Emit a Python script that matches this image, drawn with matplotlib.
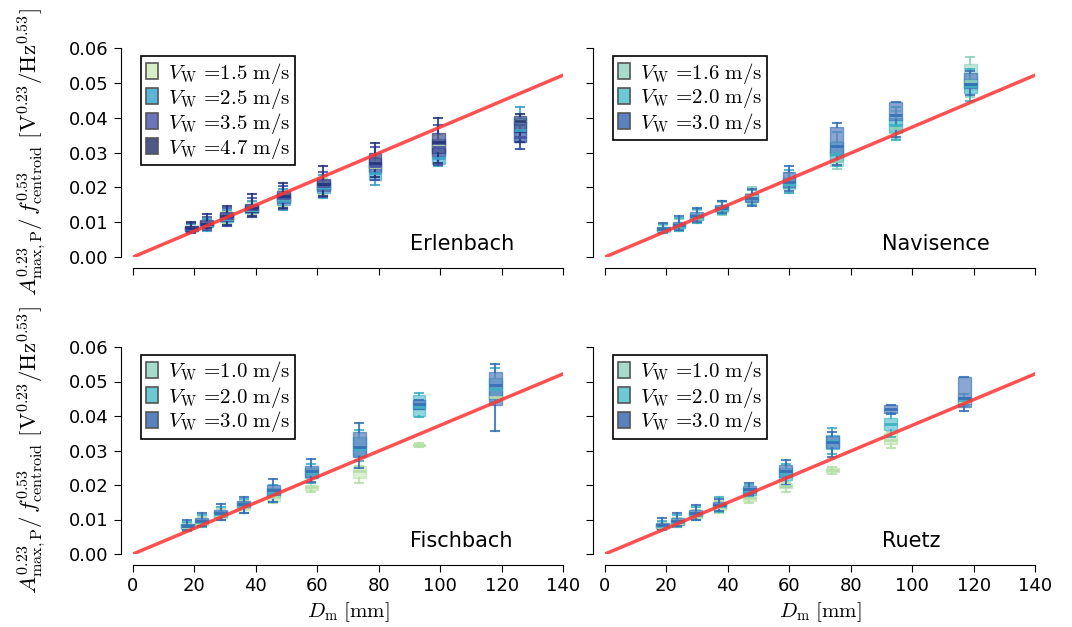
import numpy as np
import matplotlib
matplotlib.use('Agg')
import matplotlib.pyplot as plt
from matplotlib.patches import Patch
import matplotlib.colors as mcolors

plt.rcParams['mathtext.fontset'] = 'cm'
plt.rcParams['font.family'] = 'DejaVu Sans'

# ---------------- data ----------------
fit_x = [0, 140]
fit_y = [0, 0.0522]

# Erlenbach
erl_pos = [18.9, 24.0, 30.5, 38.6, 48.9, 61.9, 78.8, 99.4, 126.0]
erl_labels = ['1.5', '2.5', '3.5', '4.7']
erl_15_lo = [0.0072, 0.0080, 0.0095, 0.0120, 0.0145, 0.0180, 0.0230, 0.0290, 0.0345]
erl_15_q1 = [0.0076, 0.0086, 0.0102, 0.0127, 0.0155, 0.0190, 0.0245, 0.0305, 0.0370]
erl_15_md = [0.0080, 0.0092, 0.0110, 0.0135, 0.0165, 0.0200, 0.0258, 0.0320, 0.0390]
erl_15_q3 = [0.0086, 0.0099, 0.0120, 0.0145, 0.0178, 0.0212, 0.0272, 0.0335, 0.0400]
erl_15_hi = [0.0094, 0.0108, 0.0132, 0.0158, 0.0192, 0.0228, 0.0290, 0.0350, 0.0410]

erl_25_lo = [0.0069, 0.0076, 0.0088, 0.0115, 0.0135, 0.0170, 0.0207, 0.0262, 0.0310]
erl_25_q1 = [0.0074, 0.0085, 0.0100, 0.0125, 0.0150, 0.0185, 0.0222, 0.0268, 0.0330]
erl_25_md = [0.0079, 0.0091, 0.0110, 0.0135, 0.0162, 0.0198, 0.0240, 0.0285, 0.0365]
erl_25_q3 = [0.0085, 0.0098, 0.0120, 0.0145, 0.0175, 0.0212, 0.0262, 0.0310, 0.0400]
erl_25_hi = [0.0095, 0.0110, 0.0135, 0.0160, 0.0195, 0.0235, 0.0285, 0.0330, 0.0430]

erl_35_lo = [0.0070, 0.0078, 0.0090, 0.0115, 0.0138, 0.0172, 0.0220, 0.0265, 0.0310]
erl_35_q1 = [0.0076, 0.0088, 0.0102, 0.0128, 0.0155, 0.0190, 0.0245, 0.0290, 0.0330]
erl_35_md = [0.0081, 0.0094, 0.0112, 0.0138, 0.0168, 0.0205, 0.0262, 0.0315, 0.0345]
erl_35_q3 = [0.0088, 0.0102, 0.0125, 0.0150, 0.0185, 0.0222, 0.0285, 0.0340, 0.0360]
erl_35_hi = [0.0098, 0.0115, 0.0140, 0.0170, 0.0205, 0.0245, 0.0315, 0.0380, 0.0380]

erl_47_lo = [0.0072, 0.0082, 0.0092, 0.0118, 0.0140, 0.0175, 0.0230, 0.0270, 0.0330]
erl_47_q1 = [0.0078, 0.0090, 0.0105, 0.0130, 0.0160, 0.0195, 0.0255, 0.0300, 0.0360]
erl_47_md = [0.0083, 0.0096, 0.0118, 0.0140, 0.0175, 0.0210, 0.0270, 0.0330, 0.0390]
erl_47_q3 = [0.0090, 0.0105, 0.0130, 0.0152, 0.0190, 0.0225, 0.0300, 0.0355, 0.0405]
erl_47_hi = [0.0100, 0.0124, 0.0146, 0.0180, 0.0212, 0.0260, 0.0327, 0.0400, 0.0410]

# Navisence
nav_pos = [19.0, 24.1, 29.9, 38.0, 47.8, 59.9, 75.4, 94.6, 118.9]
nav_labels = ['1.6', '2.0', '3.0']
nav_16_lo = [0.0069, 0.0075, 0.0098, 0.0122, 0.0155, 0.0184, 0.0253, 0.0340, 0.0460]
nav_16_q1 = [0.0073, 0.0082, 0.0105, 0.0130, 0.0165, 0.0195, 0.0262, 0.0356, 0.0480]
nav_16_md = [0.0078, 0.0088, 0.0112, 0.0137, 0.0175, 0.0210, 0.0275, 0.0370, 0.0505]
nav_16_q3 = [0.0084, 0.0095, 0.0120, 0.0145, 0.0185, 0.0230, 0.0307, 0.0393, 0.0554]
nav_16_hi = [0.0092, 0.0108, 0.0135, 0.0158, 0.0200, 0.0240, 0.0330, 0.0420, 0.0574]

nav_20_lo = [0.0070, 0.0076, 0.0098, 0.0123, 0.0150, 0.0185, 0.0260, 0.0335, 0.0448]
nav_20_q1 = [0.0074, 0.0083, 0.0106, 0.0132, 0.0160, 0.0198, 0.0275, 0.0360, 0.0470]
nav_20_md = [0.0079, 0.0090, 0.0114, 0.0139, 0.0168, 0.0210, 0.0295, 0.0380, 0.0490]
nav_20_q3 = [0.0085, 0.0097, 0.0123, 0.0147, 0.0178, 0.0228, 0.0330, 0.0400, 0.0510]
nav_20_hi = [0.0094, 0.0112, 0.0138, 0.0160, 0.0192, 0.0250, 0.0360, 0.0430, 0.0540]

nav_30_lo = [0.0072, 0.0078, 0.0100, 0.0125, 0.0145, 0.0190, 0.0265, 0.0345, 0.0465]
nav_30_q1 = [0.0076, 0.0085, 0.0110, 0.0135, 0.0158, 0.0200, 0.0293, 0.0393, 0.0485]
nav_30_md = [0.0081, 0.0092, 0.0118, 0.0142, 0.0168, 0.0215, 0.0320, 0.0408, 0.0497]
nav_30_q3 = [0.0087, 0.0100, 0.0128, 0.0150, 0.0180, 0.0244, 0.0373, 0.0445, 0.0528]
nav_30_hi = [0.0098, 0.0118, 0.0142, 0.0162, 0.0195, 0.0262, 0.0385, 0.0445, 0.0535]

# Fischbach
fis_pos = [17.7, 22.4, 28.6, 36.1, 45.7, 58.0, 73.6, 93.1, 117.9]
fis_labels = ['1.0', '2.0', '3.0']
fis_10_lo = [0.0068, 0.0078, 0.0098, 0.0118, 0.0148, 0.0180, 0.0206, 0.0310, 0.0440]
fis_10_q1 = [0.0073, 0.0084, 0.0105, 0.0128, 0.0155, 0.0186, 0.0220, 0.0312, 0.0445]
fis_10_md = [0.0078, 0.0090, 0.0112, 0.0135, 0.0165, 0.0193, 0.0240, 0.0316, 0.0455]
fis_10_q3 = [0.0084, 0.0097, 0.0120, 0.0145, 0.0178, 0.0200, 0.0255, 0.0320, 0.0470]
fis_10_hi = [0.0090, 0.0106, 0.0130, 0.0155, 0.0185, 0.0206, 0.0255, 0.0322, 0.0480]

fis_20_lo = [0.0068, 0.0078, 0.0098, 0.0120, 0.0150, 0.0205, 0.0270, 0.0397, 0.0440]
fis_20_q1 = [0.0074, 0.0086, 0.0108, 0.0132, 0.0165, 0.0220, 0.0285, 0.0400, 0.0450]
fis_20_md = [0.0080, 0.0094, 0.0116, 0.0140, 0.0178, 0.0235, 0.0305, 0.0425, 0.0478]
fis_20_q3 = [0.0086, 0.0102, 0.0125, 0.0150, 0.0190, 0.0250, 0.0340, 0.0462, 0.0510]
fis_20_hi = [0.0094, 0.0112, 0.0135, 0.0160, 0.0200, 0.0262, 0.0360, 0.0467, 0.0540]

fis_30_lo = [0.0070, 0.0080, 0.0100, 0.0120, 0.0150, 0.0210, 0.0250, 0.0420, 0.0357]
fis_30_q1 = [0.0076, 0.0090, 0.0112, 0.0135, 0.0170, 0.0223, 0.0281, 0.0420, 0.0432]
fis_30_md = [0.0082, 0.0097, 0.0120, 0.0145, 0.0185, 0.0240, 0.0310, 0.0435, 0.0490]
fis_30_q3 = [0.0088, 0.0105, 0.0128, 0.0155, 0.0200, 0.0255, 0.0354, 0.0446, 0.0527]
fis_30_hi = [0.0098, 0.0119, 0.0145, 0.0165, 0.0217, 0.0275, 0.0380, 0.0446, 0.0550]

# Ruetz
rue_pos = [18.7, 23.5, 29.6, 37.2, 46.9, 58.8, 74.0, 93.0, 116.9]
rue_labels = ['1.0', '2.0', '3.0']
rue_10_lo = [0.0070, 0.0078, 0.0098, 0.0120, 0.0148, 0.0180, 0.0232, 0.0307, 0.0430]
rue_10_q1 = [0.0074, 0.0084, 0.0104, 0.0128, 0.0155, 0.0190, 0.0238, 0.0320, 0.0435]
rue_10_md = [0.0079, 0.0090, 0.0110, 0.0135, 0.0162, 0.0198, 0.0244, 0.0330, 0.0440]
rue_10_q3 = [0.0085, 0.0097, 0.0118, 0.0143, 0.0170, 0.0206, 0.0250, 0.0350, 0.0445]
rue_10_hi = [0.0093, 0.0105, 0.0128, 0.0155, 0.0176, 0.0210, 0.0252, 0.0355, 0.0450]

rue_20_lo = [0.0070, 0.0078, 0.0098, 0.0122, 0.0165, 0.0195, 0.0290, 0.0340, 0.0430]
rue_20_q1 = [0.0074, 0.0085, 0.0106, 0.0132, 0.0172, 0.0215, 0.0305, 0.0360, 0.0436]
rue_20_md = [0.0080, 0.0093, 0.0114, 0.0140, 0.0182, 0.0232, 0.0328, 0.0378, 0.0445]
rue_20_q3 = [0.0086, 0.0100, 0.0123, 0.0148, 0.0192, 0.0250, 0.0345, 0.0394, 0.0455]
rue_20_hi = [0.0096, 0.0112, 0.0135, 0.0165, 0.0200, 0.0262, 0.0365, 0.0410, 0.0465]

rue_30_lo = [0.0072, 0.0080, 0.0100, 0.0125, 0.0170, 0.0200, 0.0281, 0.0405, 0.0414]
rue_30_q1 = [0.0076, 0.0088, 0.0110, 0.0135, 0.0177, 0.0223, 0.0307, 0.0409, 0.0426]
rue_30_md = [0.0083, 0.0097, 0.0118, 0.0142, 0.0187, 0.0240, 0.0325, 0.0420, 0.0452]
rue_30_q3 = [0.0090, 0.0105, 0.0128, 0.0150, 0.0197, 0.0258, 0.0342, 0.0432, 0.0513]
rue_30_hi = [0.0104, 0.0119, 0.0142, 0.0160, 0.0206, 0.0272, 0.0355, 0.0432, 0.0513]

# colours
erl_face = ['#d2edc0', '#52b4d6', '#6470b8', '#4a5790']
erl_line = ['#b8e0a4', '#3ba0c8', '#4452a6', '#25357a']
erl_leg = ['#d6efc4', '#58b6d8', '#6a74ba', '#4c5888']
nav_face = ['#a8dcc8', '#62c6d4', '#5a80c0']
nav_line = ['#8ad0bd', '#3cb0c4', '#3570b5']
rf_face = ['#cdeac0', '#62c6d4', '#5a80c0']
rf_line = ['#b6dfa8', '#3cb0c4', '#3570b5']
oth_leg = ['#a6dccc', '#6ccad6', '#5b82c0']

panels = [
    ('Erlenbach', erl_pos, erl_labels, erl_face, erl_line, erl_leg,
     [(erl_15_lo, erl_15_q1, erl_15_md, erl_15_q3, erl_15_hi),
      (erl_25_lo, erl_25_q1, erl_25_md, erl_25_q3, erl_25_hi),
      (erl_35_lo, erl_35_q1, erl_35_md, erl_35_q3, erl_35_hi),
      (erl_47_lo, erl_47_q1, erl_47_md, erl_47_q3, erl_47_hi)]),
    ('Navisence', nav_pos, nav_labels, nav_face, nav_line, oth_leg,
     [(nav_16_lo, nav_16_q1, nav_16_md, nav_16_q3, nav_16_hi),
      (nav_20_lo, nav_20_q1, nav_20_md, nav_20_q3, nav_20_hi),
      (nav_30_lo, nav_30_q1, nav_30_md, nav_30_q3, nav_30_hi)]),
    ('Fischbach', fis_pos, fis_labels, rf_face, rf_line, oth_leg,
     [(fis_10_lo, fis_10_q1, fis_10_md, fis_10_q3, fis_10_hi),
      (fis_20_lo, fis_20_q1, fis_20_md, fis_20_q3, fis_20_hi),
      (fis_30_lo, fis_30_q1, fis_30_md, fis_30_q3, fis_30_hi)]),
    ('Ruetz', rue_pos, rue_labels, rf_face, rf_line, oth_leg,
     [(rue_10_lo, rue_10_q1, rue_10_md, rue_10_q3, rue_10_hi),
      (rue_20_lo, rue_20_q1, rue_20_md, rue_20_q3, rue_20_hi),
      (rue_30_lo, rue_30_q1, rue_30_md, rue_30_q3, rue_30_hi)]),
]

fig = plt.figure(figsize=(10.72, 6.27), dpi=100)
rects = [
    [133 / 1072, 1 - 257 / 627, 430 / 1072, 209 / 627],
    [605 / 1072, 1 - 257 / 627, 430 / 1072, 209 / 627],
    [133 / 1072, 1 - 554 / 627, 430 / 1072, 207 / 627],
    [605 / 1072, 1 - 554 / 627, 430 / 1072, 207 / 627],
]

ylab = (r'$A_{\mathrm{max,P}}^{0.23}/\,f_{\mathrm{centroid}}^{0.53}\ '
        r'[\mathrm{V}^{0.23}/\mathrm{Hz}^{0.53}]$')

for i, (name, pos, labels, faces, lines, legc, series) in enumerate(panels):
    ax = fig.add_axes(rects[i])
    for (lo, q1, md, q3, hi), fc, lc in zip(series, faces, lines):
        stats = [dict(whislo=a, q1=b, med=c, q3=d, whishi=e, fliers=[])
                 for a, b, c, d, e in zip(lo, q1, md, q3, hi)]
        ax.bxp(stats, positions=pos, widths=4.2, capwidths=2.6,
               patch_artist=True, showfliers=False, manage_ticks=False,
               boxprops=dict(facecolor=mcolors.to_rgba(fc, 0.7),
                             edgecolor=mcolors.to_rgba(lc, 0.6), linewidth=1.0),
               whiskerprops=dict(color=lc, linewidth=1.5, alpha=0.85),
               capprops=dict(color=lc, linewidth=1.5, alpha=0.85),
               medianprops=dict(color=lc, linewidth=2.0, alpha=0.95))
    ax.plot(fit_x, fit_y, color='#ff3333', linewidth=2.5, alpha=0.85, zorder=10)
    ax.set_xlim(0, 140)
    ax.set_ylim(0, 0.06)
    ax.set_xticks(np.arange(0, 141, 20))
    ax.set_yticks(np.arange(0, 0.061, 0.01))
    for s in ['top', 'right']:
        ax.spines[s].set_visible(False)
    ax.spines['left'].set_position(('outward', 9))
    ax.spines['bottom'].set_position(('outward', 8))
    ax.tick_params(axis='both', labelsize=13, direction='out', length=5)
    if i < 2:
        ax.tick_params(axis='x', labelbottom=False)
    else:
        ax.set_xlabel(r'$D_\mathrm{m}\ [\mathrm{mm}]$', fontsize=15)
    if i % 2 == 1:
        ax.tick_params(axis='y', labelleft=False)
    else:
        ax.yaxis.set_major_formatter(matplotlib.ticker.FormatStrFormatter('%.2f'))
        ax.set_ylabel(ylab, fontsize=16.5, labelpad=15)
    ax.text(0.645, 0.035, name, transform=ax.transAxes, fontsize=15,
            ha='left', va='baseline')
    handles = [Patch(facecolor=c, edgecolor='#555555', linewidth=1.2)
               for c in legc]
    texts = [r'$V_\mathrm{W}\,=\!%s\ \mathrm{m/s}$' % l for l in labels]
    leg = ax.legend(handles, texts, loc='upper left', fontsize=15,
                    handlelength=0.6, handleheight=0.8, handletextpad=0.5,
                    borderpad=0.2, labelspacing=0.0, fancybox=False,
                    framealpha=1, edgecolor='black', borderaxespad=0.4,
                    bbox_to_anchor=(0.0, 1.0))
    leg.get_frame().set_linewidth(1.2)

fig.savefig('out.png', dpi=100)
